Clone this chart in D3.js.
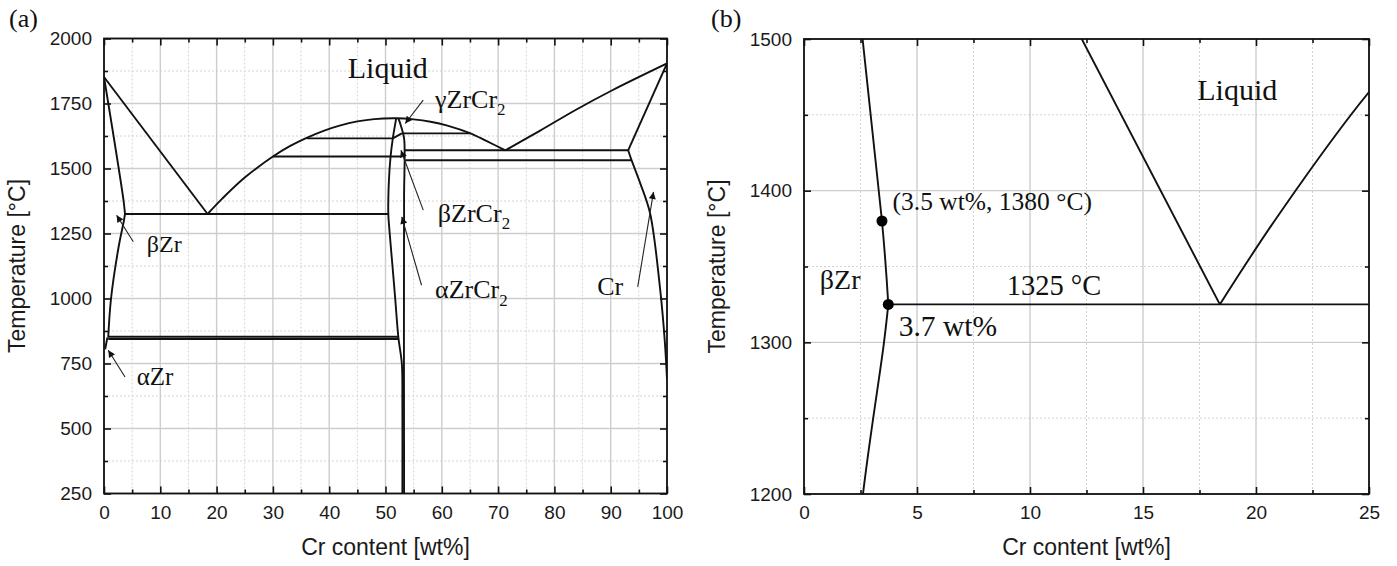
<!DOCTYPE html>
<html>
<head>
<meta charset="utf-8">
<script src="https://cdn.jsdelivr.net/npm/d3@7"></script>
<style>
  body { margin: 0; background: #fff; }
</style>
</head>
<body>
<script>
// Zr-Cr phase diagram: (a) full range, (b) zoom on the Zr-rich eutectic

// phase boundaries, [wt% Cr, temperature °C]
var zrLiquidus = [[0, 1852], [18.4, 1325]];
var zrSolidus = [[0, 1852], [3.45, 1380], [3.73, 1325]];
var zrSolvus = [[3.73, 1325], [3.54, 1300], [2.61, 1200], [1.25, 1000], [0.75, 850]];
var alphaZrEdge = [[0.6, 850], [0.2, 805]];
var lavesLiquidus = [[18.4, 1325], [21, 1384], [25, 1465], [30, 1546], [33, 1586], [36, 1618],
                     [39, 1645], [42, 1666], [45, 1681], [48, 1690], [51.9, 1693], [55, 1689],
                     [58, 1680], [61, 1665], [65.1, 1635], [68, 1605], [71.3, 1570]];
var crLiquidus = [[71.3, 1570], [77.4, 1645], [84, 1728], [90.2, 1800], [100, 1904]];
var crSolidus = [[100, 1904], [93.1, 1570]];
var crSolvus = [[93.1, 1570], [93.7, 1532], [95.3, 1440], [97, 1327], [98.8, 1032], [99.6, 838], [100, 690]];
var lavesLeft = [[51.9, 1693], [51.3, 1616], [50.9, 1546], [50.6, 1450], [50.5, 1325], [50.7, 1262],
                 [51.2, 1135], [51.7, 1006], [52.3, 848], [52.9, 750], [53.0, 600], [53.0, 250]];
var lavesRight = [[52.3, 1693], [52.8, 1660], [53.3, 1616], [53.4, 1546], [53.3, 1400], [53.3, 250]];
var lavesInner = [[51.3, 1616], [52.9, 1635]];

// isotherms: [from wt%, to wt%, T]
var isotherms = [[3.73, 50.5, 1325], [0.75, 52.3, 853], [0.75, 52.3, 844], [36, 51.3, 1616],
                 [52.9, 65.1, 1635], [30, 52.8, 1546], [53.3, 93.1, 1570], [53.5, 93.7, 1532]];

// measured points shown in (b)
var keyPoints = [[3.45, 1380], [3.73, 1325]];

// arrows in (a): tail -> head
var arrowTails = [[56.7, 1763], [56.7, 1340], [56.4, 1051], [5.2, 1218], [3.73, 698], [94.8, 1045]];
var arrowHeads = [[53.5, 1673], [52.75, 1570], [52.9, 1314], [2.24, 1320], [0.76, 801], [97.6, 1410]];

// axis ticks
var aXMajor = d3.range(0, 101, 10), aXMinor = d3.range(5, 100, 10);
var aYMajor = d3.range(250, 2001, 250), aYMinor = d3.range(375, 2000, 250);
var bXMajor = d3.range(0, 26, 5), bXMinor = [2.5, 7.5, 12.5, 17.5, 22.5];
var bYMajor = [1200, 1300, 1400, 1500], bYMinor = [1250, 1350, 1450];

var W = 1397, H = 566;
var sans = "'Liberation Sans', Arial, sans-serif";
var serif = "'Liberation Serif', 'Times New Roman', serif";

var svg = d3.select("body").append("svg")
    .attr("width", W)
    .attr("height", H);

svg.append("defs").append("marker")
    .attr("id", "head")
    .attr("viewBox", "0 0 10 10")
    .attr("refX", 10).attr("refY", 5)
    .attr("markerWidth", 10).attr("markerHeight", 7)
    .attr("markerUnits", "userSpaceOnUse")
    .attr("orient", "auto")
  .append("path")
    .attr("d", "M0,0 L10,5 L0,10 z")
    .attr("fill", "#111");

function drawPanel(p) {
  var x = d3.scaleLinear().domain(p.xDomain).range(p.xRange);
  var y = d3.scaleLinear().domain(p.yDomain).range(p.yRange);
  var g = svg.append("g");
  var x0 = p.xRange[0], x1 = p.xRange[1], y0 = p.yRange[1], y1 = p.yRange[0];

  g.append("clipPath").attr("id", "clip" + p.id)
    .append("rect").attr("x", x0).attr("y", y0).attr("width", x1 - x0).attr("height", y1 - y0);

  // grid
  g.selectAll(".gxm").data(p.xMinor).enter().append("line")
      .attr("x1", x).attr("x2", x).attr("y1", y0).attr("y2", y1)
      .attr("stroke", "#d4d4d4").attr("stroke-dasharray", "2,2");
  g.selectAll(".gym").data(p.yMinor).enter().append("line")
      .attr("y1", y).attr("y2", y).attr("x1", x0).attr("x2", x1)
      .attr("stroke", "#d4d4d4").attr("stroke-dasharray", "2,2");
  g.selectAll(".gx").data(p.xMajor).enter().append("line")
      .attr("x1", x).attr("x2", x).attr("y1", y0).attr("y2", y1)
      .attr("stroke", "#cdcdcd").attr("stroke-width", 1.4);
  g.selectAll(".gy").data(p.yMajor).enter().append("line")
      .attr("y1", y).attr("y2", y).attr("x1", x0).attr("x2", x1)
      .attr("stroke", "#cdcdcd").attr("stroke-width", 1.4);

  // axes: labelled major ticks bottom/left, inward ticks on all four sides
  function axisPair(maker, scale, major, minor, tr, labels) {
    var a = g.append("g").attr("transform", tr)
        .call(maker(scale).tickValues(major).tickSizeInner(-7).tickSizeOuter(0)
              .tickPadding(labels ? p.pad : 0).tickFormat(labels ? d3.format("d") : ""));
    var b = g.append("g").attr("transform", tr)
        .call(maker(scale).tickValues(minor).tickSizeInner(-4).tickSizeOuter(0).tickFormat(""));
    [a, b].forEach(function(s) {
      s.selectAll("path").remove();
      s.selectAll("line").attr("stroke", "#111").attr("stroke-width", 1.6);
      s.selectAll("text").attr("font-family", sans).attr("font-size", 19).attr("fill", "#1a1a1a");
    });
  }
  axisPair(d3.axisBottom, x, p.xMajor, p.xMinor, "translate(0," + y1 + ")", true);
  axisPair(d3.axisTop, x, p.xMajor, p.xMinor, "translate(0," + y0 + ")", false);
  axisPair(d3.axisLeft, y, p.yMajor, p.yMinor, "translate(" + x0 + ",0)", true);
  axisPair(d3.axisRight, y, p.yMajor, p.yMinor, "translate(" + x1 + ",0)", false);

  // phase boundaries
  var line = d3.line()
      .x(function(d) { return x(d[0]); })
      .y(function(d) { return y(d[1]); })
      .curve(d3.curveCatmullRom.alpha(0.5));
  var plot = g.append("g").attr("clip-path", "url(#clip" + p.id + ")");
  var curves = [zrLiquidus, zrSolidus, zrSolvus, alphaZrEdge, lavesLiquidus, crLiquidus,
                crSolidus, crSolvus, lavesLeft, lavesRight, lavesInner];
  plot.selectAll(".curve").data(curves).enter().append("path")
      .attr("d", line)
      .attr("fill", "none").attr("stroke", "#111").attr("stroke-width", 1.9)
      .attr("stroke-linejoin", "round");
  plot.selectAll(".iso").data(isotherms).enter().append("line")
      .attr("x1", function(d) { return x(d[0]); })
      .attr("x2", function(d) { return x(d[1]); })
      .attr("y1", function(d) { return y(d[2]); })
      .attr("y2", function(d) { return y(d[2]); })
      .attr("stroke", "#111").attr("stroke-width", 1.9);

  if (p.points) {
    plot.selectAll(".pt").data(p.points).enter().append("circle")
        .attr("cx", function(d) { return x(d[0]); })
        .attr("cy", function(d) { return y(d[1]); })
        .attr("r", 5.5).attr("fill", "#000");
  }

  if (p.arrows) {
    g.selectAll(".arr").data(arrowTails).enter().append("line")
        .attr("x1", function(d) { return x(d[0]); })
        .attr("y1", function(d) { return y(d[1]); })
        .attr("x2", function(d, i) { return x(arrowHeads[i][0]); })
        .attr("y2", function(d, i) { return y(arrowHeads[i][1]); })
        .attr("stroke", "#222").attr("stroke-width", 1.1)
        .attr("marker-end", "url(#head)");
  }

  // in-plot labels
  p.labels.forEach(function(l) {
    var t = g.append("text")
        .attr("x", x(l.at[0])).attr("y", y(l.at[1]))
        .attr("font-family", serif).attr("font-size", l.size).attr("fill", "#111")
        .text(l.text);
    if (l.sub) {
      t.append("tspan").attr("dy", l.size * 0.28).attr("font-size", l.size * 0.65).text(l.sub);
    }
  });

  // frame
  g.append("rect")
      .attr("x", x0).attr("y", y0).attr("width", x1 - x0).attr("height", y1 - y0)
      .attr("fill", "none").attr("stroke", "#111").attr("stroke-width", 1.8);

  // titles
  g.append("text")
      .attr("x", (x0 + x1) / 2).attr("y", 555)
      .attr("text-anchor", "middle")
      .attr("font-family", sans).attr("font-size", 23).attr("fill", "#1a1a1a")
      .text("Cr content [wt%]");
  g.append("text")
      .attr("transform", "translate(" + p.yTitleX + "," + ((y0 + y1) / 2) + ") rotate(-90)")
      .attr("text-anchor", "middle")
      .attr("font-family", sans).attr("font-size", 23).attr("fill", "#1a1a1a")
      .text("Temperature [°C]");
  g.append("text")
      .attr("x", p.tagX).attr("y", 27)
      .attr("font-family", serif).attr("font-size", 26).attr("fill", "#111")
      .text(p.tag);
}

drawPanel({
  id: "a", tag: "(a)", tagX: 9, yTitleX: 25, pad: 12,
  xDomain: [0, 100], xRange: [104, 667],
  yDomain: [250, 2000], yRange: [493.5, 38.5],
  xMajor: aXMajor, xMinor: aXMinor, yMajor: aYMajor, yMinor: aYMinor,
  arrows: true,
  labels: [
    { text: "Liquid", at: [43.3, 1847], size: 30 },
    { text: "γZrCr", sub: "2", at: [58.8, 1732], size: 26 },
    { text: "βZrCr", sub: "2", at: [59.3, 1295], size: 26 },
    { text: "αZrCr", sub: "2", at: [58.8, 1001], size: 26 },
    { text: "βZr", at: [7.6, 1179], size: 24 },
    { text: "αZr", at: [5.8, 667], size: 25 },
    { text: "Cr", at: [87.6, 1013], size: 26 }
  ]
});

drawPanel({
  id: "b", tag: "(b)", tagX: 711, yTitleX: 725, pad: 12,
  xDomain: [0, 25], xRange: [804, 1369],
  yDomain: [1200, 1500], yRange: [494, 39],
  xMajor: bXMajor, xMinor: bXMinor, yMajor: bYMajor, yMinor: bYMinor,
  points: keyPoints,
  labels: [
    { text: "Liquid", at: [17.4, 1460], size: 30 },
    { text: "βZr", at: [0.7, 1335], size: 28 },
    { text: "(3.5 wt%, 1380 °C)", at: [3.92, 1387], size: 25.5 },
    { text: "1325 °C", at: [8.97, 1331], size: 28.5 },
    { text: "3.7 wt%", at: [4.19, 1304], size: 29.5 }
  ]
});
</script>
</body>
</html>
